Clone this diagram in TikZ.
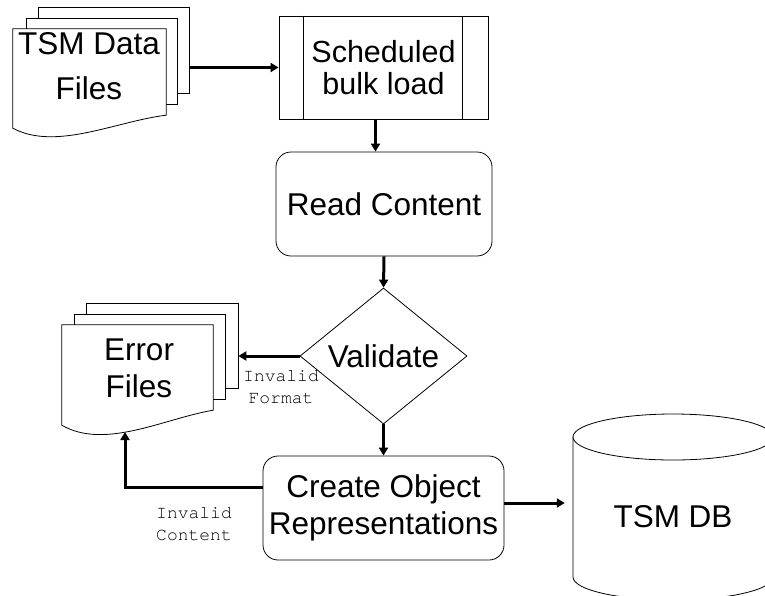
\documentclass[tikz,border=0pt]{standalone}
\usepackage{fontspec}
\setmainfont{Liberation Sans}
\setmonofont{TeX Gyre Cursor}
\usetikzlibrary{shapes.geometric,arrows.meta}
\begin{document}
\begin{tikzpicture}[x=1pt,y=-1pt,
  thinline/.style={line width=0.8pt},
  outl/.style={draw, line width=0.8pt, fill=white, inner sep=0pt},
  sheet/.style={outl, rectangle},
  bigtxt/.style={font=\fontsize{31.5}{37}\selectfont, align=center},
  roundbox/.style={outl, rectangle, rounded corners=15pt, bigtxt},
  conn/.style={line width=3pt, -{Triangle[length=8pt,width=9pt]}},
  lbl/.style={font=\fontsize{18}{22}\selectfont\ttfamily, align=center, inner sep=0pt}]
\clip (0,0) rectangle (765,595);
\fill[white] (0,0) rectangle (765,595);

% TSM Data Files (multi-document)
\node[sheet, minimum width=151pt, minimum height=86pt] (tsm3) at (113.5,50) {};
\node[sheet, minimum width=151pt, minimum height=86pt] (tsm2) at (101.5,61) {};
\node[inner sep=0pt, minimum width=153pt, minimum height=99pt] (tsm) at (89.5,78.5) {};
\draw[outl] (tsm.south west) -- (tsm.north west) -- (tsm.north east) -- ([yshift=13pt]tsm.south east)
  .. controls ([xshift=-50pt,yshift=7pt]tsm.south east) and ([xshift=43pt,yshift=-23pt]tsm.south west) .. (tsm.south west) -- cycle;
\node[bigtxt, font=\fontsize{31.5}{45}\selectfont] (tsmtext) at (89,66) {TSM Data\\Files};

% Scheduled bulk load (predefined process)
\node[outl, rectangle, minimum width=209pt, minimum height=103pt, align=center,
  font=\fontsize{30.5}{32}\selectfont] (sched) at (383.5,67.5) {Scheduled\\bulk load};
\draw[thinline] ([xshift=25pt]sched.north west) -- ([xshift=25pt]sched.south west);
\draw[thinline] ([xshift=-26pt]sched.north east) -- ([xshift=-26pt]sched.south east);

% Read Content
\node[roundbox, minimum width=216pt, minimum height=104pt] (read) at (384,204) {Read Content};

% Validate
\node[outl, diamond, minimum width=167pt, minimum height=136pt, bigtxt] (val) at (383.5,356) {Validate};

% Create Object Representations
\node[roundbox, minimum width=241pt, minimum height=104pt] (create) at (383.5,508) {Create Object\\Representations};

% Error Files (multi-document)
\node[sheet, minimum width=152pt, minimum height=85pt] (err3) at (162,345.5) {};
\node[sheet, minimum width=151pt, minimum height=85pt] (err2) at (149.5,356.5) {};
\node[inner sep=0pt, minimum width=151pt, minimum height=100pt] (err) at (137.5,375) {};
\draw[outl] (err.south west) -- (err.north west) -- (err.north east) -- ([yshift=15pt]err.south east)
  .. controls ([xshift=-48pt,yshift=7pt]err.south east) and ([xshift=43pt,yshift=-25pt]err.south west) .. (err.south west) -- cycle;
\node[bigtxt] (errtext) at (139,368) {Error\\Files};

% TSM DB (cylinder)
\node[inner sep=0pt, minimum width=200pt, minimum height=140pt] (db) at (673,507) {};
\draw[outl] (573,437) -- (573,577) .. controls (573,589.7) and (617.8,600) .. (673,600)
  .. controls (728.2,600) and (773,589.7) .. (773,577) -- (773,437) -- cycle;
\draw[outl] (673,437) ellipse [x radius=100pt, y radius=23pt];
\node[bigtxt] (dbtext) at (673,516.5) {TSM DB};

% Connectors
\coordinate (sout) at ([xshift=-8pt]sched.south);
\coordinate (cout) at ([yshift=5pt]create.east);
\coordinate (errin) at (125,432);
\draw[conn] (sched.west -| tsm3.east) -- (sched.west);
\draw[conn] (sout) -- (sout |- read.north);
\draw[conn] (read.south) -- (val.north);
\draw[conn] (val.south) -- (create.north);
\draw[conn] (val.west) -- (val.west -| err3.east);
\draw[conn] ([yshift=21pt]create.west) -| (errin);
\draw[conn, shorten >=8pt] (cout) -- (cout -| db.west);

% Labels
\node[lbl] (fmtlbl) at (281,387) {Invalid\\Format};
\node[lbl] (cntlbl) at (194,524) {Invalid\\Content};
\end{tikzpicture}
\end{document}
